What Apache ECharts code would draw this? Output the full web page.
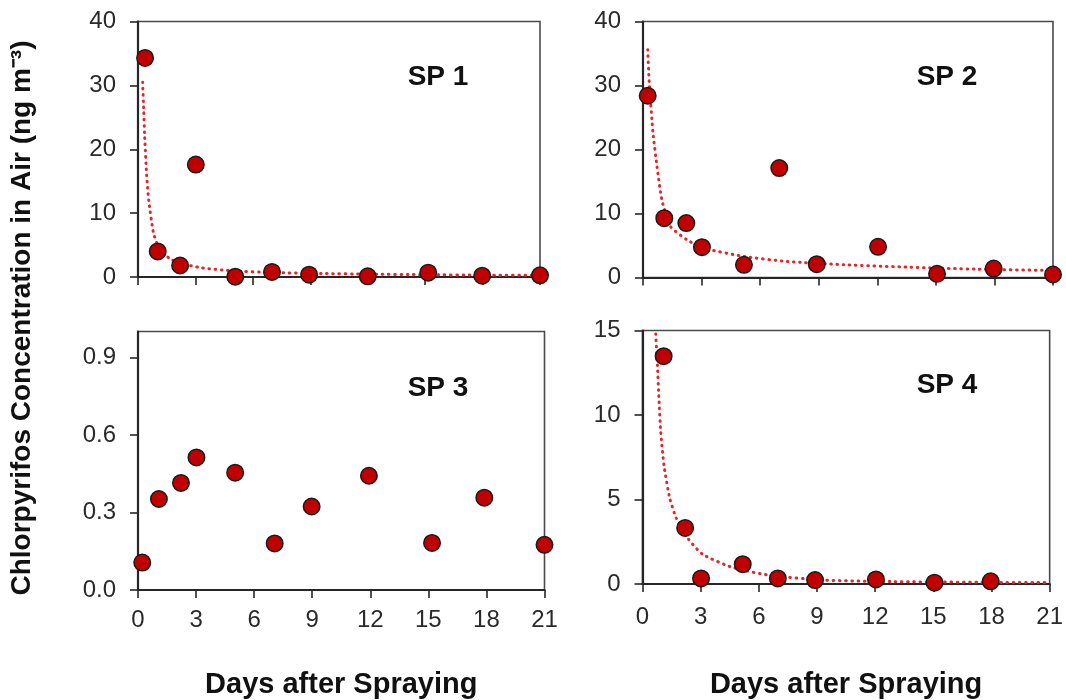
<!DOCTYPE html>
<html>
<head>
<meta charset="utf-8">
<script src="https://cdn.jsdelivr.net/npm/echarts@6/dist/echarts.min.js"></script>
<style>
  html, body { margin: 0; padding: 0; background: #fff; }
  #chart { width: 1066px; height: 700px; }
</style>
</head>
<body>
<div id="chart"></div>
<script>
// ---- Data ----
const panelNames = ['SP 1', 'SP 2', 'SP 3', 'SP 4'];
const xTickValues = [0, 3, 6, 9, 12, 15, 18, 21];
const yTicksSP12 = [0, 10, 20, 30, 40];
const yTicksSP3 = [0, 0.3, 0.6, 0.9];
const yTicksSP4 = [0, 5, 10, 15];
const xTitle = 'Days after Spraying';
const yTitle = 'Chlorpyrifos Concentration in Air (ng m\u207B\u00B3)';

const sp1Days = [0.37, 1.03, 2.2, 3.02, 5.08, 7.0, 8.94, 12.0, 15.16, 17.98, 21.0];
const sp1Conc = [34.3, 4.0, 1.8, 17.6, 0.05, 0.8, 0.36, 0.1, 0.68, 0.2, 0.26];
const sp1TrendDays = [0.24, 0.3, 0.34, 0.45, 0.56, 0.8, 1.0, 1.3, 1.7, 2.15, 3.3, 5.0, 7.0, 9.6, 12.0, 15.0, 18.0, 21.0];
const sp1TrendConc = [30.5, 26.0, 22.5, 16.0, 12.0, 7.0, 5.2, 3.8, 2.8, 2.2, 1.45, 0.95, 0.7, 0.55, 0.45, 0.36, 0.3, 0.25];

const sp2Days = [0.24, 1.09, 2.22, 3.02, 5.17, 6.98, 8.9, 12.04, 15.06, 17.96, 21.0];
const sp2Conc = [28.4, 9.27, 8.5, 4.74, 1.98, 17.1, 2.08, 4.8, 0.57, 1.4, 0.47];
const sp2TrendDays = [0.24, 0.32, 0.51, 0.72, 0.97, 1.4, 2.25, 3.1, 5.15, 7.4, 10.3, 13.7, 17.1, 21.0];
const sp2TrendConc = [35.6, 30.4, 22.6, 17.3, 12.1, 8.0, 5.9, 4.6, 3.3, 2.5, 2.0, 1.6, 1.3, 1.1];

const sp3Days = [0.22, 1.08, 2.22, 3.02, 5.02, 7.06, 8.97, 11.93, 15.19, 17.89, 21.0];
const sp3Conc = [0.106, 0.352, 0.414, 0.513, 0.454, 0.18, 0.323, 0.442, 0.182, 0.357, 0.175];

const sp4Days = [1.09, 2.2, 3.02, 5.17, 6.98, 8.9, 12.04, 15.06, 17.96];
const sp4Conc = [13.48, 3.32, 0.33, 1.17, 0.33, 0.23, 0.27, 0.08, 0.16];
const sp4TrendDays = [0.68, 0.77, 0.85, 0.94, 1.11, 1.4, 1.74, 2.34, 3.1, 4.64, 6.7, 9.42, 12.8, 21.0];
const sp4TrendConc = [14.8, 12.9, 10.9, 9.0, 7.0, 5.1, 3.9, 2.7, 1.76, 0.98, 0.49, 0.23, 0.14, 0.08];

// ---- Chart ----
const pairs = (xs, ys) => xs.map((x, i) => [x, ys[i]]);
const FONT = 'Liberation Sans, Arial, sans-serif';
const AXIS_COLOR = '#262626';
const LABEL_COLOR = '#2a2a2a';
const MARKER = '#C00000';
const TREND = '#E0282A';

const grids = [
  { left: 138, top: 21.5, width: 402, height: 255.5 },
  { left: 643, top: 21.5, width: 410, height: 256 },
  { left: 138, top: 331.5, width: 406.5, height: 260 },
  { left: 642.5, top: 330.5, width: 410, height: 255.5 }
].map(g => Object.assign(g, { show: true, borderColor: '#4a4a4a', borderWidth: 1.6, containLabel: false }));

function xAxisFor(idx, bottom, nameGap) {
  return {
    type: 'value', gridIndex: idx, min: 0, max: 21, interval: 3,
    name: bottom ? xTitle : '', nameLocation: 'middle', nameGap: nameGap,
    nameTextStyle: { fontFamily: FONT, fontWeight: 'bold', fontSize: 29, color: '#111' },
    splitLine: { show: false },
    axisLine: { show: true, onZero: false, lineStyle: { color: AXIS_COLOR, width: 2.2 } },
    axisTick: { show: true, inside: false, length: 8, lineStyle: { color: AXIS_COLOR, width: 1.6 }, customValues: xTickValues },
    axisLabel: { show: !!bottom, margin: bottom === 'l' ? 18 : 21, fontFamily: FONT, fontSize: 24, color: LABEL_COLOR, customValues: xTickValues }
  };
}
function yAxisFor(idx, max, ticks, fmt) {
  return {
    type: 'value', gridIndex: idx, min: 0, max: max,
    splitLine: { show: false },
    axisLine: { show: true, onZero: false, lineStyle: { color: AXIS_COLOR, width: 2.2 } },
    axisTick: { show: true, inside: false, length: 8, lineStyle: { color: AXIS_COLOR, width: 1.6 }, customValues: ticks },
    axisLabel: { margin: 22, fontFamily: FONT, fontSize: 24, color: LABEL_COLOR, customValues: ticks, formatter: fmt }
  };
}

function scatter(idx, xs, ys) {
  return {
    type: 'scatter', xAxisIndex: idx, yAxisIndex: idx, data: pairs(xs, ys),
    symbol: 'circle', symbolSize: 16.5, z: 5,
    itemStyle: { color: MARKER, borderColor: '#1a1a1a', borderWidth: 1.5, opacity: 1 }
  };
}
function trend(idx, xs, ys) {
  return {
    type: 'line', xAxisIndex: idx, yAxisIndex: idx, data: pairs(xs, ys),
    showSymbol: false, smooth: 0.2, z: 3, clip: true, silent: true,
    lineStyle: { color: TREND, width: 3, type: [0.6, 5.6], cap: 'round' }
  };
}

const panelLabelPos = [[438, 77], [947, 77], [438, 388], [947, 385]];

const option = {
  animation: false,
  backgroundColor: '#ffffff',
  grid: grids,
  xAxis: [
    xAxisFor(0, false, 0),
    xAxisFor(1, false, 0),
    xAxisFor(2, 'l', 80),
    xAxisFor(3, 'r', 86)
  ],
  yAxis: [
    yAxisFor(0, 40, yTicksSP12),
    yAxisFor(1, 40, yTicksSP12),
    yAxisFor(2, 1.0, yTicksSP3, v => v.toFixed(1)),
    yAxisFor(3, 15, yTicksSP4)
  ],
  series: [
    trend(0, sp1TrendDays, sp1TrendConc),
    scatter(0, sp1Days, sp1Conc),
    trend(1, sp2TrendDays, sp2TrendConc),
    scatter(1, sp2Days, sp2Conc),
    scatter(2, sp3Days, sp3Conc),
    trend(3, sp4TrendDays, sp4TrendConc),
    scatter(3, sp4Days, sp4Conc)
  ],
  graphic: panelNames.map((t, i) => ({
    type: 'text', x: panelLabelPos[i][0], y: panelLabelPos[i][1], z: 10,
    style: { text: t, fontFamily: FONT, fontWeight: 'bold', fontSize: 28, fill: '#111', align: 'center', verticalAlign: 'middle' }
  })).concat([{
    type: 'text', x: 22, y: 318, rotation: Math.PI / 2, z: 10,
    style: { text: yTitle, fontFamily: FONT, fontWeight: 'bold', fontSize: 28, fill: '#111', align: 'center', verticalAlign: 'middle' }
  }])
};

const chart = echarts.init(document.getElementById('chart'), null, { renderer: 'canvas' });
chart.setOption(option);
</script>
</body>
</html>
